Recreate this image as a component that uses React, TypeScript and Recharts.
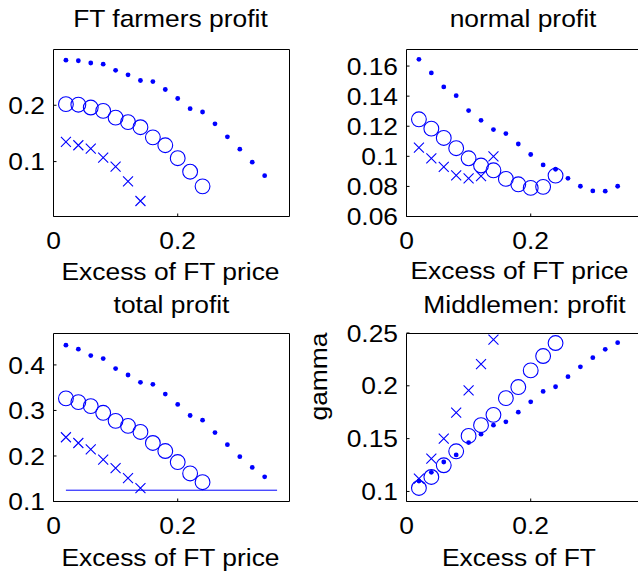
import React from 'react';
import { ScatterChart, Scatter, XAxis, YAxis } from 'recharts';

// ---------- data ----------
const excess = [0.02, 0.04, 0.06, 0.08, 0.1, 0.12, 0.14, 0.16, 0.18, 0.2, 0.22, 0.24, 0.26, 0.28, 0.3, 0.32, 0.34];

// FT farmers profit
const farmersDots = [0.280, 0.279, 0.275, 0.273, 0.262, 0.254, 0.244, 0.242, 0.228, 0.212, 0.194, 0.188, 0.167, 0.144, 0.122, 0.099, 0.075];
const farmersCircles = [0.202, 0.201, 0.196, 0.190, 0.178, 0.170, 0.161, 0.143, 0.129, 0.106, 0.082, 0.056];
const farmersCrosses = [0.135, 0.129, 0.123, 0.107, 0.091, 0.065, 0.030];

// normal profit
const normalDots = [0.1645, 0.1554, 0.1461, 0.1403, 0.1304, 0.1239, 0.1178, 0.1151, 0.1082, 0.1012, 0.0943, 0.0914, 0.0854, 0.0801, 0.077, 0.0768, 0.0801];
const normalCircles = [0.1246, 0.1184, 0.1122, 0.1054, 0.0987, 0.0939, 0.0907, 0.085, 0.0814, 0.079, 0.0797, 0.0872];
const normalCrosses = [0.1058, 0.0987, 0.093, 0.0874, 0.0854, 0.0868, 0.1];

// total profit
const totalDots = [0.4434, 0.4346, 0.4206, 0.414, 0.3919, 0.3779, 0.3617, 0.3573, 0.336, 0.3132, 0.2889, 0.2786, 0.2514, 0.2249, 0.1984, 0.1748, 0.1542];
const totalCircles = [0.3264, 0.3183, 0.3095, 0.2948, 0.2771, 0.2661, 0.2528, 0.2285, 0.2109, 0.1866, 0.1616, 0.1424];
const totalCrosses = [0.2411, 0.2285, 0.2146, 0.1918, 0.1733, 0.1513, 0.1292];
const baselineX = [0.02, 0.36];
const baselineY = [0.1248, 0.1248];

// Middlemen: profit
const midDots = [0.1099, 0.1181, 0.1279, 0.1346, 0.1463, 0.1542, 0.1627, 0.1659, 0.175, 0.1848, 0.1947, 0.1991, 0.2086, 0.218, 0.2266, 0.2345, 0.2408];
const midCircles = [0.1033, 0.1137, 0.1248, 0.138, 0.1526, 0.1627, 0.1725, 0.1883, 0.1988, 0.2146, 0.2282, 0.2405];
const midCrosses = [0.1121, 0.1311, 0.15, 0.1747, 0.1956, 0.2206, 0.2437];

// tick labels
const xTicks = [0, 0.2];
const farmersTicks = [0.1, 0.2];
const normalTicks = [0.06, 0.08, 0.1, 0.12, 0.14, 0.16];
const totalTicks = [0.1, 0.2, 0.3, 0.4];
const midTicks = [0.1, 0.15, 0.2, 0.25];

// titles / labels
const titles = ['FT farmers profit', 'normal profit', 'total profit', 'Middlemen: profit'];
const xLabels = ['Excess of FT price', 'Excess of FT price', 'Excess of FT price', 'Excess of FT'];
const yLabel4 = 'gamma';

// ---------- helpers ----------
const zip = (xs: number[], ys: number[]) => ys.map((y, i) => ({ x: xs[i], y }));

const W = 660;
const H = 576;
const BLUE = '#0000ff';
const FONT = '"Liberation Sans", Arial, Helvetica, sans-serif';
const FS = 24;
const SX = 1.1;
const xDomain: [number, number] = [0, 0.38];

const fmt = (v: number) => String(v);

const BottomTick = (p: any) => (
  <text
    transform={`translate(${p.x},${p.y + 32}) scale(${SX},1)`}
    textAnchor="middle"
    fontSize={FS}
    fontFamily={FONT}
    fill="#000"
  >
    {fmt(p.payload.value)}
  </text>
);

const LeftTick = (p: any) => (
  <text
    transform={`translate(${p.x},${p.y}) scale(${SX},1)`}
    textAnchor="end"
    dy="0.36em"
    fontSize={FS}
    fontFamily={FONT}
    fill="#000"
  >
    {fmt(p.payload.value)}
  </text>
);

const Dot = (p: any) => <circle cx={p.cx} cy={p.cy} r={2.4} fill={BLUE} />;
const Ring = (p: any) => <circle cx={p.cx} cy={p.cy} r={7.4} fill="none" stroke={BLUE} strokeWidth={1.1} />;
const Cross = (p: any) => {
  const s = 5;
  return (
    <path
      d={`M${p.cx - s},${p.cy - s}L${p.cx + s},${p.cy + s}M${p.cx - s},${p.cy + s}L${p.cx + s},${p.cy - s}`}
      stroke={BLUE}
      strokeWidth={1.1}
      fill="none"
    />
  );
};
const Nothing = () => <g />;

type Box = { left: number; right: number; top: number; bottom: number };

function Panel(props: {
  box: Box;
  yDomain: [number, number];
  yTicks: number[];
  dots: number[];
  circles: number[];
  crosses: number[];
  hline?: { x: number; y: number }[];
}) {
  const { box, yDomain, yTicks, dots, circles, crosses, hline } = props;
  const margin = { left: box.left - 1, top: box.top - 1, right: W - box.right - 1, bottom: H - box.bottom - 1 };
  const axisStroke = { stroke: '#000', strokeWidth: 1 };
  return (
    <div style={{ position: 'absolute', left: 0, top: 0 }}>
      <ScatterChart width={W} height={H} margin={margin}>
        <XAxis
          xAxisId="b"
          dataKey="x"
          type="number"
          orientation="bottom"
          domain={xDomain}
          allowDataOverflow
          ticks={xTicks}
          height={1}
          tickSize={-3}
          tickMargin={3}
          tick={BottomTick}
          axisLine={axisStroke}
          tickLine={axisStroke}
        />
        <XAxis
          xAxisId="t"
          dataKey="x"
          type="number"
          orientation="top"
          domain={xDomain}
          allowDataOverflow
          ticks={xTicks}
          height={1}
          tickSize={-3}
          tick={false}
          axisLine={axisStroke}
          tickLine={axisStroke}
        />
        <YAxis
          yAxisId="l"
          dataKey="y"
          type="number"
          orientation="left"
          domain={yDomain}
          allowDataOverflow
          ticks={yTicks}
          width={1}
          tickSize={-3}
          tickMargin={11.5}
          tick={LeftTick}
          axisLine={axisStroke}
          tickLine={axisStroke}
        />
        <YAxis
          yAxisId="r"
          dataKey="y"
          type="number"
          orientation="right"
          domain={yDomain}
          allowDataOverflow
          ticks={yTicks}
          width={1}
          tickSize={-3}
          tick={false}
          axisLine={axisStroke}
          tickLine={axisStroke}
        />
        {hline && (
          <Scatter
            xAxisId="b"
            yAxisId="l"
            data={hline}
            line={{ stroke: BLUE, strokeWidth: 1 }}
            shape={Nothing}
            isAnimationActive={false}
          />
        )}
        <Scatter xAxisId="b" yAxisId="l" data={zip(excess, dots)} shape={Dot} isAnimationActive={false} />
        <Scatter xAxisId="b" yAxisId="l" data={zip(excess, circles)} shape={Ring} isAnimationActive={false} />
        <Scatter xAxisId="b" yAxisId="l" data={zip(excess, crosses)} shape={Cross} isAnimationActive={false} />
      </ScatterChart>
    </div>
  );
}

const Label = (p: { x: number; y: number; text: string; rotate?: boolean }) => (
  <text
    transform={p.rotate ? `translate(${p.x},${p.y}) rotate(-90) scale(${SX},1)` : `translate(${p.x},${p.y}) scale(${SX},1)`}
    textAnchor="middle"
    fontSize={FS}
    fontFamily={FONT}
    fill="#000"
  >
    {p.text}
  </text>
);

export default function App() {
  const b1: Box = { left: 53.5, right: 289.5, top: 49.5, bottom: 216.5 };
  const b2: Box = { left: 406.5, right: 642.5, top: 49.5, bottom: 216.5 };
  const b3: Box = { left: 53.5, right: 289.5, top: 333.5, bottom: 501.5 };
  const b4: Box = { left: 406.5, right: 642.5, top: 333.5, bottom: 501.5 };
  return (
    <div
      style={{
        position: 'absolute',
        left: 0,
        top: 0,
        width: 638,
        height: 576,
        overflow: 'hidden',
        background: '#fff',
      }}
    >
      <Panel box={b1} yDomain={[0.0025, 0.299]} yTicks={farmersTicks} dots={farmersDots} circles={farmersCircles} crosses={farmersCrosses} />
      <Panel box={b2} yDomain={[0.06, 0.171]} yTicks={normalTicks} dots={normalDots} circles={normalCircles} crosses={normalCrosses} />
      <Panel
        box={b3}
        yDomain={[0.1, 0.469]}
        yTicks={totalTicks}
        dots={totalDots}
        circles={totalCircles}
        crosses={totalCrosses}
        hline={zip(baselineX, baselineY)}
      />
      <Panel box={b4} yDomain={[0.0905, 0.2495]} yTicks={midTicks} dots={midDots} circles={midCircles} crosses={midCrosses} />
      <svg width={638} height={576} style={{ position: 'absolute', left: 0, top: 0, pointerEvents: 'none' }}>
        <Label x={170.5} y={27} text={titles[0]} />
        <Label x={523} y={27} text={titles[1]} />
        <Label x={171.5} y={313} text={titles[2]} />
        <Label x={524.5} y={313} text={titles[3]} />
        <Label x={170.5} y={280} text={xLabels[0]} />
        <Label x={519.5} y={279} text={xLabels[1]} />
        <Label x={170.5} y={566} text={xLabels[2]} />
        <Label x={519} y={566} text={xLabels[3]} />
        <Label x={326.5} y={376.5} text={yLabel4} rotate />
      </svg>
    </div>
  );
}
